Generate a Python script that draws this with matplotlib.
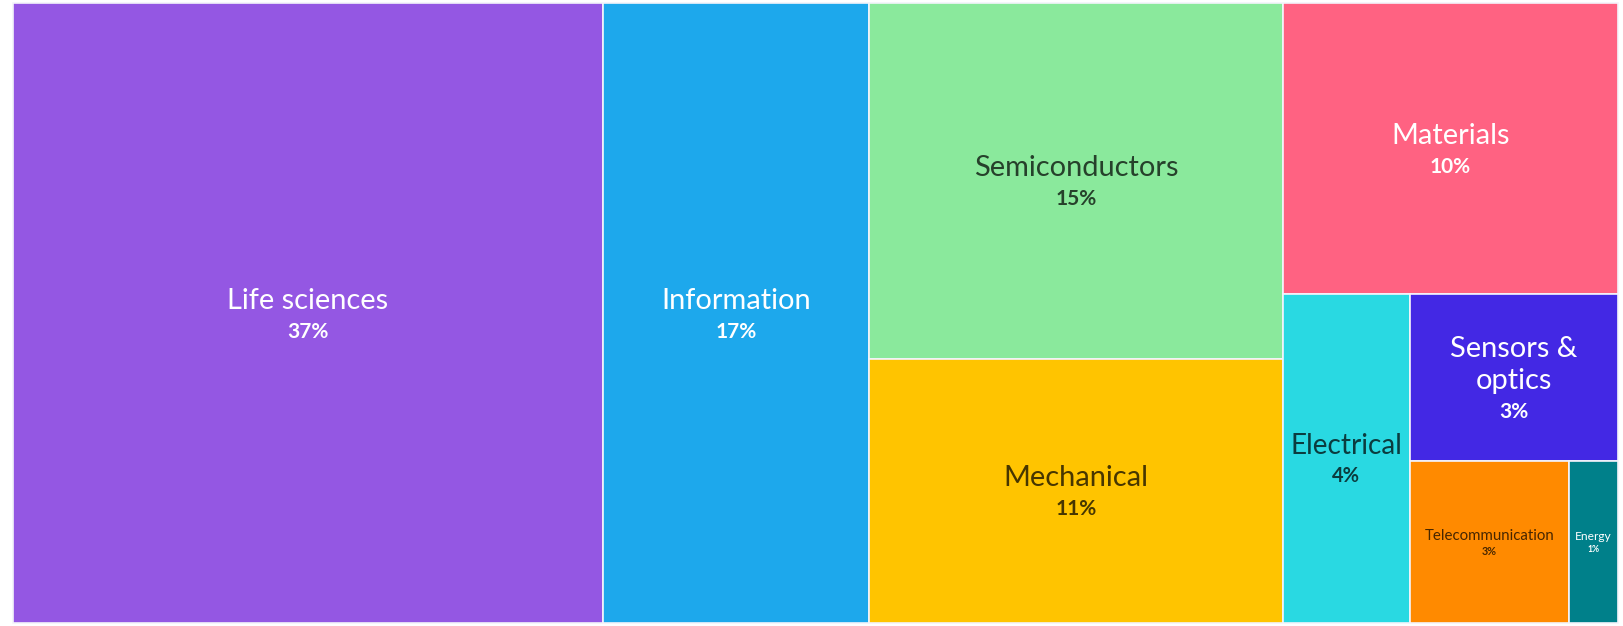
import matplotlib.pyplot as plt
from matplotlib.patches import Rectangle

plt.rcParams['font.family'] = ['Lato', 'DejaVu Sans']

# share of patents per technology field (%)
fields = ['Life sciences', 'Information', 'Semiconductors', 'Mechanical', 'Materials',
          'Electrical', 'Sensors &\noptics', 'Telecommunication', 'Energy']
shares = [36.8, 16.6, 14.8, 11.0, 9.8, 4.2, 3.5, 2.6, 0.8]
colors = ['#9457E3', '#1DA8EC', '#8AE99C', '#FFC400', '#FF6282',
          '#29D9E2', '#4328E4', '#FF8A00', '#00808A']
light_text = [True, True, False, False, True, False, True, False, True]
font_px = [29, 29, 29, 29, 29, 28, 29, 15, 12]

# nested slicing: 'h' splits left-to-right, 'v' splits top-to-bottom
tree = ('h', [0, 1, ('v', [2, 3]),
              ('v', [4, ('h', [5, ('v', [6, ('h', [7, 8])])])])])

W, H = 1623, 626
DPI = 100


def total(node):
    if isinstance(node, int):
        return shares[node]
    return sum(total(c) for c in node[1])


def layout(node, x, y, w, h, out):
    if isinstance(node, int):
        out[node] = (x, y, w, h)
        return
    direction, children = node
    s = total(node)
    pos = 0.0
    for c in children:
        frac = total(c) / s
        if direction == 'h':
            layout(c, x + pos * w, y, w * frac, h, out)
        else:
            layout(c, x, y + pos * h, w, h * frac, out)
        pos += frac


rects = {}
layout(tree, 12.5, 3, 1605.5, 620, rects)
grand = sum(shares)

fig = plt.figure(figsize=(W / DPI, H / DPI), dpi=DPI)
ax = fig.add_axes([0, 0, 1, 1])
ax.set_xlim(0, W)
ax.set_ylim(H, 0)
ax.axis('off')

for i, name in enumerate(fields):
    x, y, w, h = rects[i]
    ax.add_patch(Rectangle((x, y), w, h, facecolor=colors[i],
                           edgecolor='#f4f4fb', linewidth=1.2))
    tc = 'white' if light_text[i] else (0, 0, 0, 0.72)
    fp = font_px[i]
    lines = name.split('\n')
    n = len(lines)
    cap, step, gap = 0.7 * fp, 1.08 * fp, 1.0 * fp
    cx, cy = x + w / 2, y + h / 2
    b1 = cy + (cap - (n - 1) * step - gap) / 2
    for k, line in enumerate(lines):
        ax.text(cx, b1 + k * step, line, ha='center', va='baseline',
                color=tc, fontsize=fp * 72 / DPI)
    pct = round(shares[i] / grand * 100)
    ax.text(cx, b1 + (n - 1) * step + gap, f'{pct}%', ha='center', va='baseline',
            color=tc, fontsize=fp * 0.72 * 72 / DPI, fontweight='bold')

fig.savefig('out.png', dpi=DPI)
